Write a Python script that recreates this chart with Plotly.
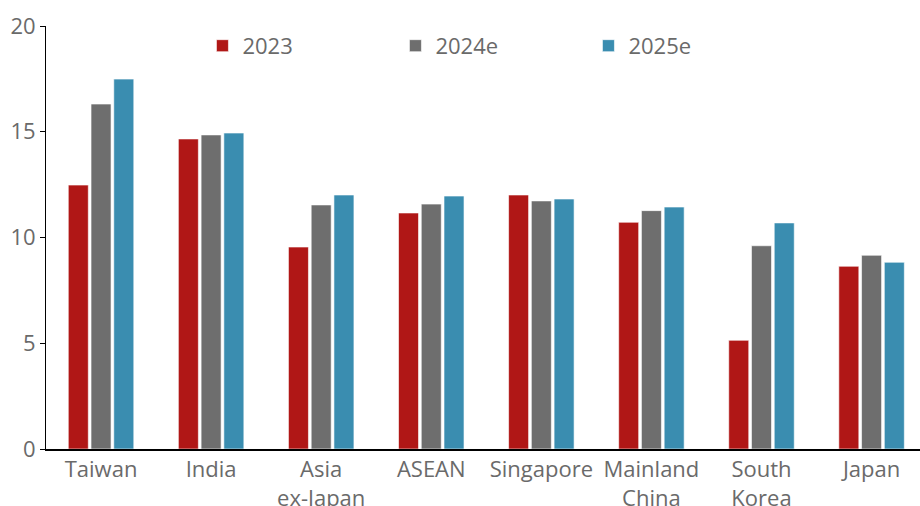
import plotly.graph_objects as go

categories = ["Taiwan", "India", "Asia<br>ex-Japan", "ASEAN", "Singapore",
              "Mainland<br>China", "South<br>Korea", "Japan"]
v2023 = [12.48, 14.66, 9.55, 11.16, 12.01, 10.72, 5.14, 8.64]
v2024e = [16.31, 14.85, 11.54, 11.58, 11.73, 11.27, 9.61, 9.16]
v2025e = [17.49, 14.94, 12.01, 11.96, 11.82, 11.44, 10.69, 8.83]
series = [("2023", v2023, "#B01716"), ("2024e", v2024e, "#6E6E6E"), ("2025e", v2025e, "#3A8DB0")]

FONT = "Open Sans, Noto Sans, sans-serif"
TXT = "#6A6A6A"

fig = go.Figure()
for name, vals, col in series:
    fig.add_trace(go.Bar(x=list(range(len(categories))), y=vals, name=name,
                         marker=dict(color=col, line=dict(color="rgba(255,255,255,0.6)", width=1))))

fig.update_layout(
    width=920, height=506,
    margin=dict(l=46, r=0, t=26, b=57),
    paper_bgcolor="white", plot_bgcolor="white",
    barmode="group", bargap=0.38, bargroupgap=0.12,
    font=dict(family=FONT, color=TXT, size=22),
    showlegend=True,
    legend=dict(orientation="h", x=0.179, xanchor="left", y=0.953, yanchor="middle",
                entrywidth=148, entrywidthmode="pixels",
                font=dict(size=22, color=TXT), itemwidth=30,
                bgcolor="rgba(0,0,0,0)", traceorder="normal"),
    xaxis=dict(range=[-0.5, 7.44], tickmode="array", tickvals=list(range(len(categories))),
               ticktext=categories, showline=True, linecolor="black", linewidth=1.5,
               showgrid=False, ticks="", zeroline=False, automargin=False,
               tickfont=dict(size=22, color=TXT)),
    yaxis=dict(range=[0, 20], tickvals=[0, 5, 10, 15, 20], showline=True, linecolor="black",
               linewidth=1, showgrid=False, ticks="outside", ticklen=5, tickcolor="black",
               zeroline=False, automargin=False, tickfont=dict(size=22, color=TXT)),
)

fig.write_html("out.html")
